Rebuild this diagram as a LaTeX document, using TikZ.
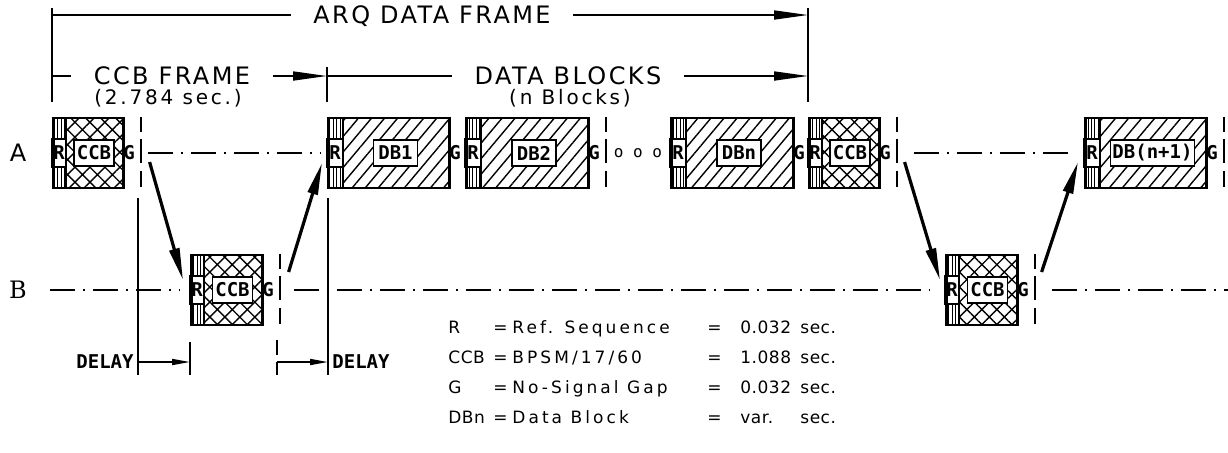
\documentclass[tikz,border=0pt]{standalone}
\usepackage{fontspec}
\setmainfont{DejaVu Sans}
\newfontfamily\cadfont[LetterSpace=10]{DejaVu Sans}
\newfontfamily\cadsub[LetterSpace=14]{DejaVu Sans}
\newfontfamily\legkey[LetterSpace=3]{DejaVu Sans}
\newfontfamily\legwide[LetterSpace=18]{DejaVu Sans}
\newfontfamily\blkfont{DejaVu Sans Mono}
\newfontfamily\rowBfont{DejaVu Serif}
\usetikzlibrary{arrows.meta,patterns.meta,positioning,calc}
\tikzset{
  dim/.style={line width=0.85pt},
  dimarrow/.style={dim,-{Triangle[length=17pt,width=4.5pt]}},
  delayarrow/.style={dim,-{Triangle[length=9pt,width=3pt]}},
  sig/.style={line width=1.6pt,-{Triangle[length=16pt,width=5pt]}},
  centerline/.style={line width=0.8pt,dash pattern=on 12.5pt off 4pt on 1pt off 4pt},
  gapline/.style={line width=1pt,dash pattern=on 7.5pt off 3.5pt on 12pt off 4pt on 8pt off 10pt},
  ccbfill/.style={pattern={Hatch[angle=45,distance=5.3pt,line width=0.7pt]}},
  dbfill/.style={pattern={Lines[angle=50,distance=5pt,line width=0.7pt]}},
  rstripe/.style={pattern={Lines[angle=90,distance=1.7pt,line width=0.45pt]}},
  outline/.style={draw,line width=1.3pt,minimum height=35pt,inner sep=0pt,anchor=west},
  blktext/.style={font=\blkfont\bfseries\fontsize{9.5}{9.5}\selectfont},
  lblbox/.style={blktext,draw,fill=white,line width=0.8pt,minimum height=13pt,inner sep=0pt},
  rbox/.style={blktext,draw,fill=white,line width=0.6pt,minimum height=14pt,inner sep=0pt},
  gtext/.style={blktext,inner sep=0pt},
  rowlbl/.style={font=\fontsize{12}{12}\selectfont},
  dimlbl/.style={font=\cadfont\fontsize{12}{12}\selectfont,inner xsep=11pt,inner ysep=0pt,
    text height=8.8pt,text depth=0pt},
  sublbl/.style={font=\cadsub\fontsize{10}{10}\selectfont,inner sep=0pt,
    text height=7.5pt,text depth=1.5pt},
  delaylbl/.style={font=\blkfont\bfseries\fontsize{9.5}{9.5}\selectfont,inner sep=1pt},
  legkey/.style={font=\legkey\fontsize{8.5}{8.5}\selectfont,anchor=mid west,inner sep=0pt},
  legwide/.style={font=\legwide\fontsize{8.5}{8.5}\selectfont,anchor=mid west,inner sep=0pt},
}
% block: name, left x, centre y, width, R width, fill, label, label width
\newcommand\blk[8]{%
  \fill[#6] (#2+#5,#3-35) rectangle (#2+#4,#3+35);
  \fill[rstripe] (#2,#3-35) rectangle (#2+#5,#3+35);
  \draw[line width=0.8pt] (#2+#5,#3-35) -- (#2+#5,#3+35);
  \node[rbox,minimum width=#5*0.5pt] (#1-r) at (#2+#5/2,#3) {R};
  \node[lblbox,minimum width=#8*0.5pt] (#1-l) at (#2+#5/2+#4/2,#3) {#7};
  \node[outline,minimum width=#4*0.5pt] (#1) at (#2,#3) {};
  \node[gtext] (#1-g) at (#2+#4+7,#3) {G};
}

\begin{document}
\begin{tikzpicture}[x=0.5pt,y=-0.5pt]
  \useasboundingbox (0,0) rectangle (1228,452);
  % row labels
  \node[rowlbl] (rowA) at (18,153) {A};
  \node[rowlbl,font=\rowBfont\fontsize{12}{12}\selectfont] (rowB) at (18,290) {B};
  \coordinate (bL) at (50,290);
  \coordinate (bR) at (1228,290);

  % station A
  \blk{ccbA1}{52}{153}{70}{14}{ccbfill}{CCB}{40}
  \blk{dbA1}{327}{153}{121}{16}{dbfill}{DB1}{44}
  \blk{dbA2}{465}{153}{122}{16}{dbfill}{DB2}{44}
  \node[font=\blkfont\fontsize{8}{8}\selectfont] (more) at (638,153) {o o o};
  \blk{dbAn}{670}{153}{122}{16}{dbfill}{DBn}{44}
  \blk{ccbA2}{808}{153}{70}{14}{ccbfill}{CCB}{40}
  \blk{dbAn1}{1084}{153}{121}{16}{dbfill}{DB(n+1)}{84}
  % station B
  \blk{ccbB1}{190}{290}{71}{14}{ccbfill}{CCB}{40}
  \blk{ccbB2}{945}{290}{71}{14}{ccbfill}{CCB}{40}

  % no-signal gaps
  \foreach \b in {ccbA1,dbA2,ccbA2,dbAn1,ccbB1,ccbB2}{
    \draw[gapline] ([xshift=8pt]\b.north east) -- ([xshift=8pt]\b.south east);
    \coordinate (\b-gc) at ([xshift=8pt]\b.east);
  }

  % time axes
  \draw[centerline] ([xshift=3.5pt]ccbA1-gc) -- ([xshift=-3.5pt]dbA1.west);
  \draw[centerline] ([xshift=8.5pt]ccbA2-gc) -- ([xshift=-7pt]dbAn1.west);
  \draw[centerline] (bL) -- ([xshift=-5pt]ccbB1.west);
  \draw[centerline] ([xshift=7pt]ccbB1-gc) -- ([xshift=-8pt]ccbB2.west);
  \draw[centerline] ([xshift=8.5pt]ccbB2-gc) -- (bR);

  % A <-> B
  \draw[sig] ([shift={(4.5pt,-4.5pt)}]ccbA1-gc) -- ([shift={(-3.5pt,5pt)}]ccbB1.west);
  \draw[sig] ([shift={(4.5pt,9pt)}]ccbB1-gc) -- ([shift={(-2.5pt,-5pt)}]dbA1.west);
  \draw[sig] ([shift={(4pt,-4.5pt)}]ccbA2-gc) -- ([shift={(-2.5pt,5pt)}]ccbB2.west);
  \draw[sig] ([shift={(3.5pt,9pt)}]ccbB2-gc) -- ([shift={(-3pt,-4.5pt)}]dbAn1.west);

  % frame dimensions
  \node[dimlbl] (arq) at (432,15) {ARQ DATA FRAME};
  \node[dimlbl] (ccbf) at (172,76) {CCB FRAME};
  \node[sublbl] (ccbt) at (168,98) {(2.784 sec.)};
  \node[dimlbl] (dbf) at (568,76) {DATA BLOCKS};
  \node[sublbl] (dbt) at (570,98) {(n Blocks)};
  \draw[dim] (52,8) -- (52,102);
  \draw[dim] (808,8) -- (808,102);
  \draw[dim] (327,67) -- (327,102);
  \draw[dim] (52,15) -- (arq.west);
  \draw[dimarrow] (arq.east) -- (808,15);
  \draw[dim] (52,76) -- (ccbf.west);
  \draw[dimarrow] (ccbf.east) -- (327,76);
  \draw[dim] (327,76) -- (dbf.west);
  \draw[dimarrow] (dbf.east) -- (808,76);

  % delays
  \draw[dim] (138,198) -- (138,375);
  \draw[dim] (328,198) -- (328,375);
  \draw[dim] (190,342) -- (190,375);
  \draw[gapline] (277,340) -- (277,375);
  \draw[delayarrow] (138,362) -- (190,362);
  \draw[delayarrow] (277,362) -- (328,362);
  \node[delaylbl,anchor=east] (dl1) at (136,362) {DELAY};
  \node[delaylbl,anchor=west] (dl2) at (330,362) {DELAY};

  % legend
  \foreach \k/\s/\v/\u [count=\i] in {R/{Ref. Sequence}/{0.032}/{sec.},
      CCB/{BPSM/17/60}/{1.088}/{sec.}, G/{No-Signal Gap}/{0.032}/{sec.},
      DBn/{Data Block}/{var.}/{sec.}}{
    \node[legkey] (key\i) at (448,298+30*\i) {\k};
    \node[legkey] (eqa\i) at (493,298+30*\i) {=};
    \node[legwide] (txt\i) at (512,298+30*\i) {\s};
    \node[legkey] (eqb\i) at (707,298+30*\i) {=};
    \node[legkey] (val\i) at (740,298+30*\i) {\v};
    \node[legkey] (sec\i) at (800,298+30*\i) {\u};
  }
\end{tikzpicture}
\end{document}
